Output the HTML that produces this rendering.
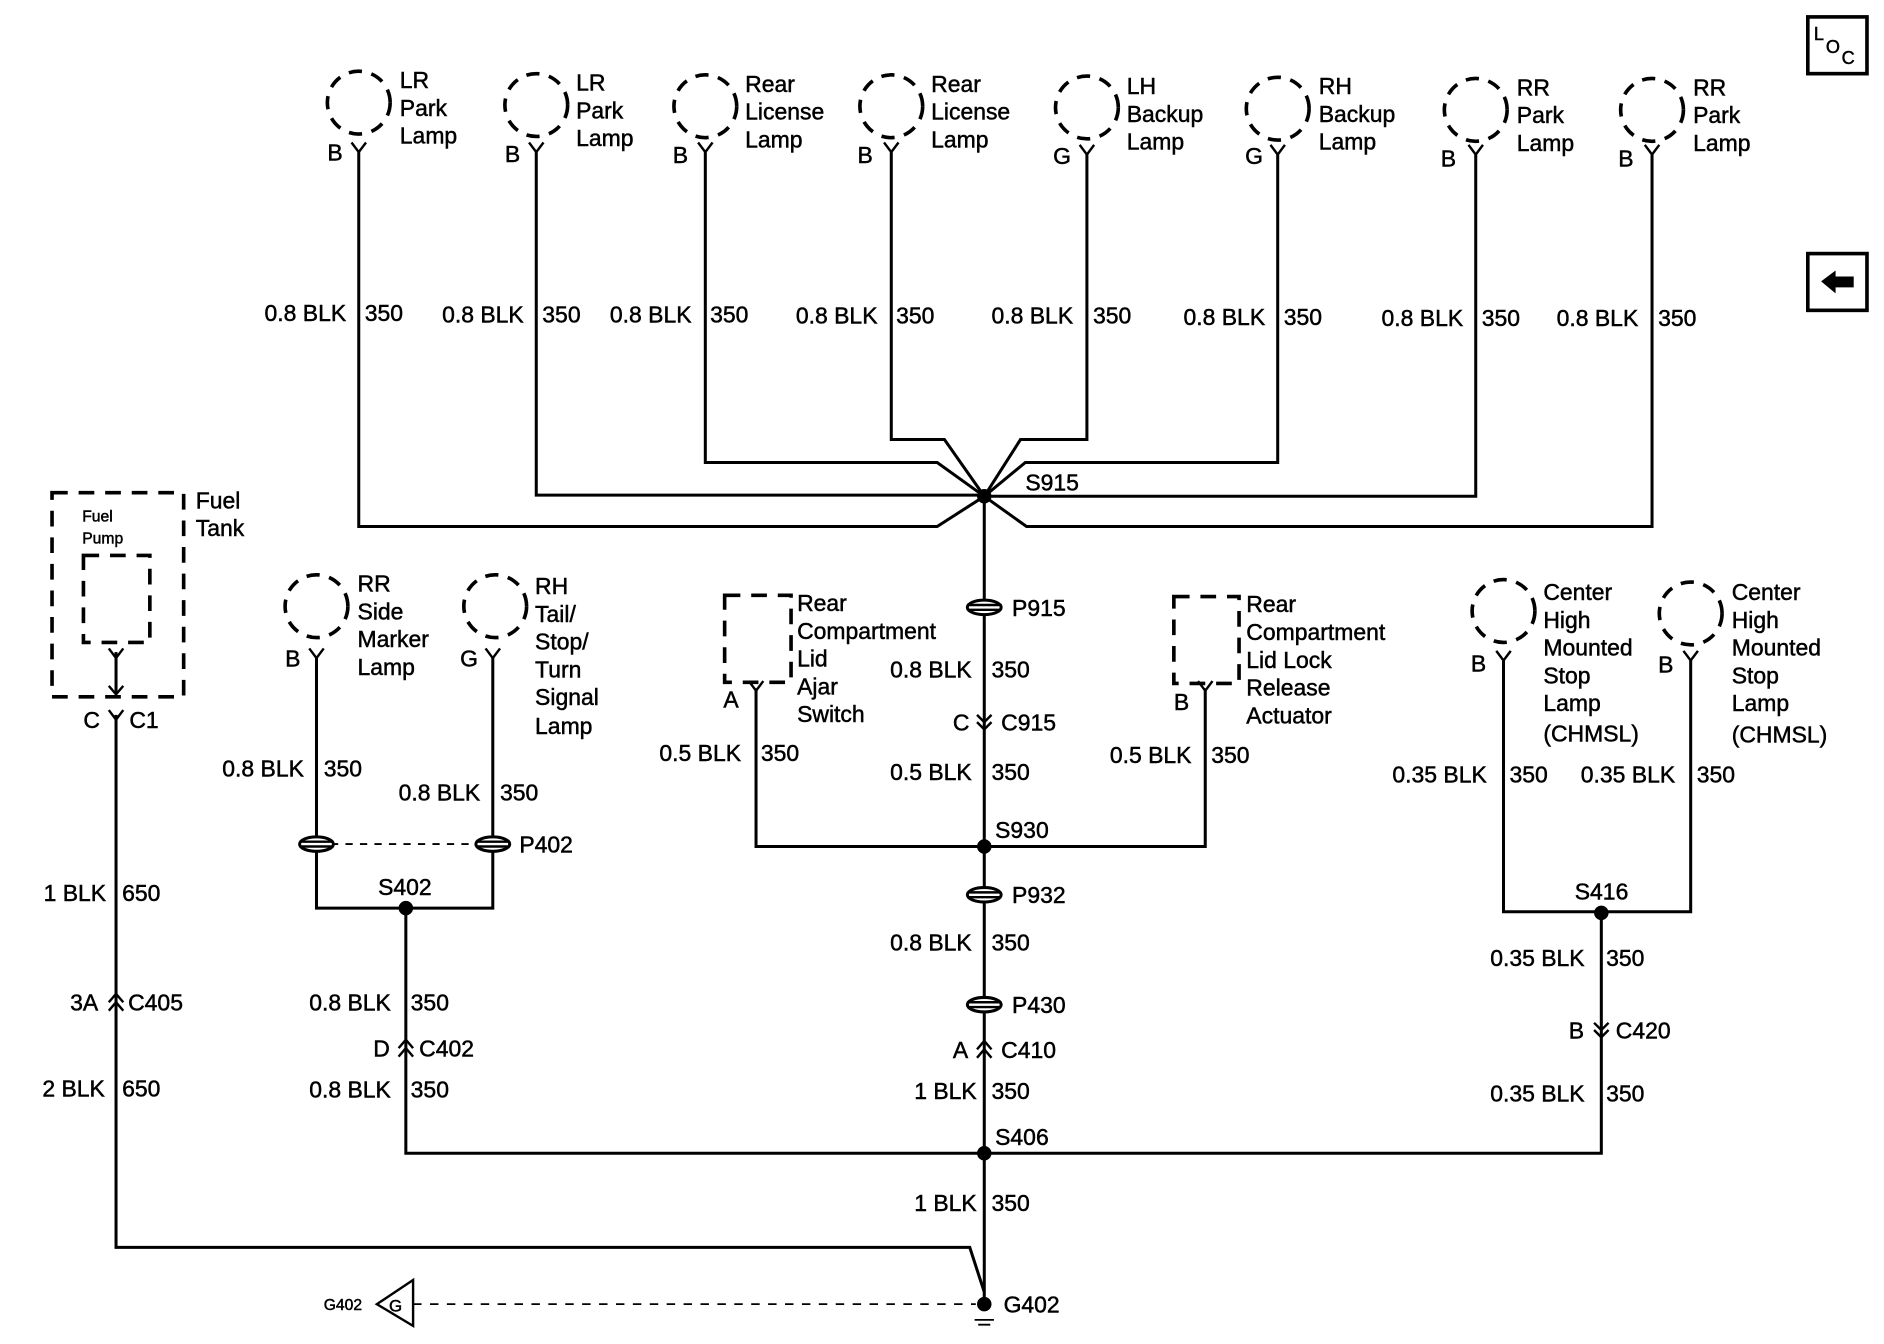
<!DOCTYPE html>
<html><head><meta charset="utf-8"><style>
html,body{margin:0;padding:0;background:#fff}
svg{display:block}
text{font-family:"Liberation Sans",Arial,sans-serif;font-size:19px;fill:#000;stroke:#000;stroke-width:0.4}
</style></head><body>
<svg width="1884" height="1344" viewBox="0 0 1560 1113" xmlns="http://www.w3.org/2000/svg">
<defs>
<g id="lampc"><circle cx="0" cy="0" r="26" fill="none" stroke="#000" stroke-width="3" stroke-dasharray="11 8"/></g>
<g id="yc"><path d="M-6,-8 L0,0 L6,-8 M0,0 V4" fill="none" stroke="#000" stroke-width="2"/></g>
<g id="pp"><ellipse cx="0" cy="0" rx="14" ry="6" fill="#fff" stroke="#000" stroke-width="2.5"/><path d="M-14,-2 H14 M-14,2 H14" stroke="#000" stroke-width="2"/></g>
<g id="up"><path d="M-6,-2 L0,-9 L6,-2 M-6,5 L0,-2 L6,5" fill="none" stroke="#000" stroke-width="2"/></g>
<g id="dn"><path d="M-6,-8 L0,-2 L6,-8 M-6,-2 L0,4 L6,-2" fill="none" stroke="#000" stroke-width="2"/></g>
</defs>
<g fill="none" stroke="#000" stroke-width="2.5">
<rect x="1497" y="14" width="49" height="47" stroke-width="3"/>
<rect x="1497" y="210" width="49" height="47" stroke-width="3"/>
<path d="M297,126 V436 H776 L815,411"/>
<path d="M444,126 V410 H815"/>
<path d="M584,126 V383 H776 L815,411"/>
<path d="M738,126 V364 H782 L815,411"/>
<path d="M900,128 V364 H845 L815,411"/>
<path d="M1058,128 V383 H849 L815,411"/>
<path d="M1222,128 V411 H815"/>
<path d="M1368,128 V436 H850 L815,411"/>
<path d="M815,411 V1078"/>
<path d="M626,570 V701 H998 V570"/>
<path d="M96,540 V575"/>
<path d="M96,592 V1033 H803 L815,1070"/>
<path d="M262,545 V752 H408 V545"/>
<path d="M336,752 V955 H1326 V757"/>
<path d="M1245,547 V755 H1400 V547"/>
<path d="M262,699 H408" stroke-dasharray="6 6" stroke-width="1.5"/>
<path d="M342,1080 H808" stroke-dasharray="7 7" stroke-width="1.5"/>
<rect x="43" y="408" width="109" height="169" stroke-width="3" stroke-dasharray="13 9"/>
<rect x="69" y="460" width="55" height="72" stroke-width="3" stroke-dasharray="13 9"/>
<rect x="600" y="493" width="55" height="72" stroke-width="3" stroke-dasharray="13 9"/>
<rect x="972" y="494" width="54" height="72" stroke-width="3" stroke-dasharray="13 9"/>
<path d="M342,1060 L312,1080 L342,1098 Z" stroke-width="2"/>
<path d="M90,568 L96,575 L102,568" stroke-width="2"/>
<path d="M807,1093 H823 M810,1097 H820" stroke-width="1.5"/>
</g>
<use href="#lampc" x="297" y="85"/><use href="#lampc" x="444" y="87"/><use href="#lampc" x="584" y="88"/><use href="#lampc" x="738" y="88"/>
<use href="#lampc" x="900" y="89"/><use href="#lampc" x="1058" y="90"/><use href="#lampc" x="1222" y="91"/><use href="#lampc" x="1368" y="91"/>
<use href="#lampc" x="262" y="502"/><use href="#lampc" x="410" y="502"/><use href="#lampc" x="1245" y="506"/><use href="#lampc" x="1400" y="508"/>
<use href="#yc" x="297" y="126"/><use href="#yc" x="444" y="126"/><use href="#yc" x="584" y="126"/><use href="#yc" x="738" y="126"/>
<use href="#yc" x="900" y="128"/><use href="#yc" x="1058" y="128"/><use href="#yc" x="1222" y="128"/><use href="#yc" x="1368" y="128"/>
<use href="#yc" x="262" y="545"/><use href="#yc" x="408" y="545"/><use href="#yc" x="1245" y="547"/><use href="#yc" x="1400" y="547"/>
<use href="#yc" x="626" y="572"/><use href="#yc" x="998" y="572"/><use href="#yc" x="96" y="596"/><use href="#yc" x="96" y="545"/>
<use href="#pp" x="815" y="503"/><use href="#pp" x="815" y="741"/><use href="#pp" x="815" y="832"/><use href="#pp" x="262" y="699"/><use href="#pp" x="408" y="699"/>
<use href="#dn" x="815" y="600"/><use href="#dn" x="1326" y="855"/>
<use href="#up" x="96" y="832"/><use href="#up" x="336" y="870"/><use href="#up" x="815" y="871"/>
<g fill="#000"><circle cx="815" cy="411" r="6"/><circle cx="815" cy="701" r="6"/><circle cx="815" cy="955" r="6"/><circle cx="336" cy="752" r="6"/><circle cx="1326" cy="756" r="6"/><circle cx="815" cy="1080" r="6"/></g>
<text x="1502" y="33" style="font-size:15px">L</text><text x="1512" y="44" style="font-size:15px">O</text><text x="1525" y="53" style="font-size:15px">C</text>
<path d="M1508,233 L1520,224 V229 H1535 V238 H1520 V243 Z" fill="#000"/>
<text x="331" y="73">LR</text><text x="331" y="96">Park</text><text x="331" y="119">Lamp</text>
<text x="477" y="75">LR</text><text x="477" y="98">Park</text><text x="477" y="121">Lamp</text>
<text x="617" y="76">Rear</text><text x="617" y="99">License</text><text x="617" y="122">Lamp</text>
<text x="771" y="76">Rear</text><text x="771" y="99">License</text><text x="771" y="122">Lamp</text>
<text x="933" y="78">LH</text><text x="933" y="101">Backup</text><text x="933" y="124">Lamp</text>
<text x="1092" y="78">RH</text><text x="1092" y="101">Backup</text><text x="1092" y="124">Lamp</text>
<text x="1256" y="79">RR</text><text x="1256" y="102">Park</text><text x="1256" y="125">Lamp</text>
<text x="1402" y="79">RR</text><text x="1402" y="102">Park</text><text x="1402" y="125">Lamp</text>
<text x="271" y="133">B</text><text x="418" y="134">B</text><text x="557" y="135">B</text><text x="710" y="135">B</text>
<text x="872" y="136">G</text><text x="1031" y="136">G</text><text x="1193" y="138">B</text><text x="1340" y="138">B</text>
<text x="219" y="266">0.8 BLK</text><text x="302" y="266">350</text>
<text x="366" y="267">0.8 BLK</text><text x="449" y="267">350</text>
<text x="505" y="267">0.8 BLK</text><text x="588" y="267">350</text>
<text x="659" y="268">0.8 BLK</text><text x="742" y="268">350</text>
<text x="821" y="268">0.8 BLK</text><text x="905" y="268">350</text>
<text x="980" y="269">0.8 BLK</text><text x="1063" y="269">350</text>
<text x="1144" y="270">0.8 BLK</text><text x="1227" y="270">350</text>
<text x="1289" y="270">0.8 BLK</text><text x="1373" y="270">350</text>
<text x="849" y="406">S915</text>
<text x="162" y="421">Fuel</text><text x="162" y="444">Tank</text>
<text x="68" y="432" style="font-size:13px">Fuel</text><text x="68" y="450" style="font-size:13px">Pump</text>
<text x="69" y="603">C</text><text x="107" y="603">C1</text>
<text x="296" y="490">RR</text><text x="296" y="513">Side</text><text x="296" y="536">Marker</text><text x="296" y="559">Lamp</text>
<text x="443" y="492">RH</text><text x="443" y="515">Tail/</text><text x="443" y="538">Stop/</text><text x="443" y="561">Turn</text><text x="443" y="584">Signal</text><text x="443" y="608">Lamp</text>
<text x="236" y="552">B</text><text x="381" y="552">G</text>
<text x="184" y="643">0.8 BLK</text><text x="268" y="643">350</text>
<text x="330" y="663">0.8 BLK</text><text x="414" y="663">350</text>
<text x="430" y="706">P402</text><text x="313" y="741">S402</text>
<text x="36" y="746">1 BLK</text><text x="101" y="746">650</text>
<text x="58" y="837">3A</text><text x="106" y="837">C405</text>
<text x="35" y="908">2 BLK</text><text x="101" y="908">650</text>
<text x="256" y="837">0.8 BLK</text><text x="340" y="837">350</text>
<text x="309" y="875">D</text><text x="347" y="875">C402</text>
<text x="256" y="909">0.8 BLK</text><text x="340" y="909">350</text>
<text x="660" y="506">Rear</text><text x="660" y="529">Compartment</text><text x="660" y="552">Lid</text><text x="660" y="575">Ajar</text><text x="660" y="598">Switch</text>
<text x="599" y="586">A</text>
<text x="838" y="510">P915</text>
<text x="737" y="561">0.8 BLK</text><text x="821" y="561">350</text>
<text x="789" y="605">C</text><text x="829" y="605">C915</text>
<text x="546" y="630">0.5 BLK</text><text x="630" y="630">350</text>
<text x="737" y="646">0.5 BLK</text><text x="821" y="646">350</text>
<text x="824" y="694">S930</text>
<text x="838" y="748">P932</text>
<text x="737" y="787">0.8 BLK</text><text x="821" y="787">350</text>
<text x="838" y="839">P430</text>
<text x="789" y="876">A</text><text x="829" y="876">C410</text>
<text x="757" y="910">1 BLK</text><text x="821" y="910">350</text>
<text x="824" y="948">S406</text>
<text x="757" y="1003">1 BLK</text><text x="821" y="1003">350</text>
<text x="831" y="1087">G402</text>
<text x="268" y="1085" style="font-size:13px">G402</text><text x="322" y="1086" style="font-size:14px">G</text>
<text x="1032" y="507">Rear</text><text x="1032" y="530">Compartment</text><text x="1032" y="553">Lid Lock</text><text x="1032" y="576">Release</text><text x="1032" y="599">Actuator</text>
<text x="972" y="588">B</text>
<text x="919" y="632">0.5 BLK</text><text x="1003" y="632">350</text>
<text x="1278" y="497">Center</text><text x="1278" y="520">High</text><text x="1278" y="543">Mounted</text><text x="1278" y="566">Stop</text><text x="1278" y="589">Lamp</text><text x="1278" y="614">(CHMSL)</text>
<text x="1434" y="497">Center</text><text x="1434" y="520">High</text><text x="1434" y="543">Mounted</text><text x="1434" y="566">Stop</text><text x="1434" y="589">Lamp</text><text x="1434" y="615">(CHMSL)</text>
<text x="1218" y="556">B</text><text x="1373" y="557">B</text>
<text x="1153" y="648">0.35 BLK</text><text x="1250" y="648">350</text>
<text x="1309" y="648">0.35 BLK</text><text x="1405" y="648">350</text>
<text x="1304" y="745">S416</text>
<text x="1234" y="800">0.35 BLK</text><text x="1330" y="800">350</text>
<text x="1299" y="860">B</text><text x="1338" y="860">C420</text>
<text x="1234" y="912">0.35 BLK</text><text x="1330" y="912">350</text>
</svg>
</body></html>
